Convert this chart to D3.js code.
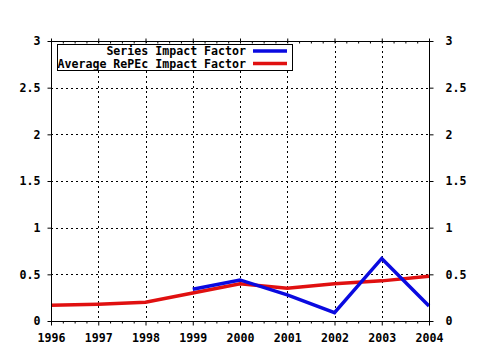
<!DOCTYPE html>
<html><head><meta charset="utf-8">
<script src="https://cdn.jsdelivr.net/npm/d3@7"></script>
<style>
html,body{margin:0;padding:0;background:#fff;}
svg{display:block;}
text{font-family:"DejaVu Sans Mono",monospace;font-weight:bold;font-size:11.6px;fill:#000;}
</style></head><body>
<script>
const years = [1996, 1997, 1998, 1999, 2000, 2001, 2002, 2003, 2004];
const seriesYears = [1999, 2000, 2001, 2002, 2003, 2004];
const seriesImpact = [0.34, 0.44, 0.28, 0.09, 0.67, 0.16];
const averageImpact = [0.17, 0.18, 0.20, 0.30, 0.40, 0.35, 0.40, 0.43, 0.48];
const yTicks = [0, 0.5, 1, 1.5, 2, 2.5, 3];
const yTickLabels = ["0", "0.5", "1", "1.5", "2", "2.5", "3"];
const legendLabels = ["Series Impact Factor", "Average RePEc Impact Factor"];
const colors = ["#0a0ae0", "#e01010"];

const W = 480, H = 350;
const L = 51, R = 429, T = 41, B = 321;
const svg = d3.select("body").append("svg").attr("width", W).attr("height", H);
svg.append("rect").attr("width", W).attr("height", H).attr("fill", "#fff");

const x = d3.scaleLinear().domain([1996, 2004]).range([L, R]);
const y = d3.scaleLinear().domain([0, 3]).range([B, T]);

const minor = [];
for (let i = 0; i < years.length - 1; i++) for (let q = 1; q < 4; q++) minor.push(years[i] + q / 4);

// grid
const grid = svg.append("g").attr("stroke", "#000").attr("stroke-width", 1).attr("stroke-dasharray", "2,3");
years.slice(1, -1).forEach(v => grid.append("line").attr("x1", Math.round(x(v)) + 0.5).attr("x2", Math.round(x(v)) + 0.5).attr("y1", T).attr("y2", B));
yTicks.slice(1, -1).forEach(v => grid.append("line").attr("y1", Math.round(y(v)) + 0.5).attr("y2", Math.round(y(v)) + 0.5).attr("x1", L).attr("x2", R));

// lines
const line = d3.line().x(d => x(d[0])).y(d => y(d[1]));
svg.append("path").datum(years.map((yr, i) => [yr, averageImpact[i]]))
  .attr("d", line).attr("fill", "none").attr("stroke", colors[1]).attr("stroke-width", 3.5);
svg.append("path").datum(seriesYears.map((yr, i) => [yr, seriesImpact[i]]))
  .attr("d", line).attr("fill", "none").attr("stroke", colors[0]).attr("stroke-width", 3.5);

function styleAxis(g) {
  g.select(".domain").remove();
  g.selectAll("line").attr("stroke", "#000");
}
const fmt = d => yTickLabels[yTicks.indexOf(d)];

// left axis
svg.append("g").attr("transform", `translate(${L + 0.5},0)`)
  .call(d3.axisLeft(y).tickValues(yTicks).tickSize(4).tickPadding(7).tickFormat(fmt))
  .call(styleAxis);
// right axis
svg.append("g").attr("transform", `translate(${R + 0.5},0)`)
  .call(d3.axisRight(y).tickValues(yTicks).tickSize(4).tickPadding(12).tickFormat(fmt))
  .call(styleAxis);
// bottom axis
svg.append("g").attr("transform", `translate(0,${B + 0.5})`)
  .call(d3.axisBottom(x).tickValues(years).tickSize(4).tickPadding(8).tickFormat(d3.format("d")))
  .call(styleAxis);
svg.append("g").attr("transform", `translate(0,${B + 0.5})`)
  .call(d3.axisBottom(x).tickValues(minor).tickSize(2).tickFormat(""))
  .call(styleAxis);
// top axis
svg.append("g").attr("transform", `translate(0,${T + 0.5})`)
  .call(d3.axisTop(x).tickValues(years).tickSize(3).tickFormat(""))
  .call(styleAxis);
svg.append("g").attr("transform", `translate(0,${T + 0.5})`)
  .call(d3.axisBottom(x).tickValues(years.concat(minor)).tickSize(2).tickFormat(""))
  .call(styleAxis);

// frame
svg.append("rect").attr("x", L + 0.5).attr("y", T + 0.5).attr("width", R - L).attr("height", B - T)
  .attr("fill", "none").attr("stroke", "#000").attr("stroke-width", 1);

// legend
const lg = svg.append("g");
lg.append("rect").attr("x", 57.5).attr("y", 44.5).attr("width", 235).attr("height", 26)
  .attr("fill", "#fff").attr("stroke", "#000");
legendLabels.forEach((t, i) => {
  const cy = 51 + i * 12.5;
  lg.append("text").attr("x", 246).attr("y", cy).attr("dy", "0.35em").attr("text-anchor", "end").text(t);
  lg.append("line").attr("x1", 253).attr("x2", 287).attr("y1", cy).attr("y2", cy)
    .attr("stroke", colors[i]).attr("stroke-width", 3.5);
});
</script>
</body></html>
